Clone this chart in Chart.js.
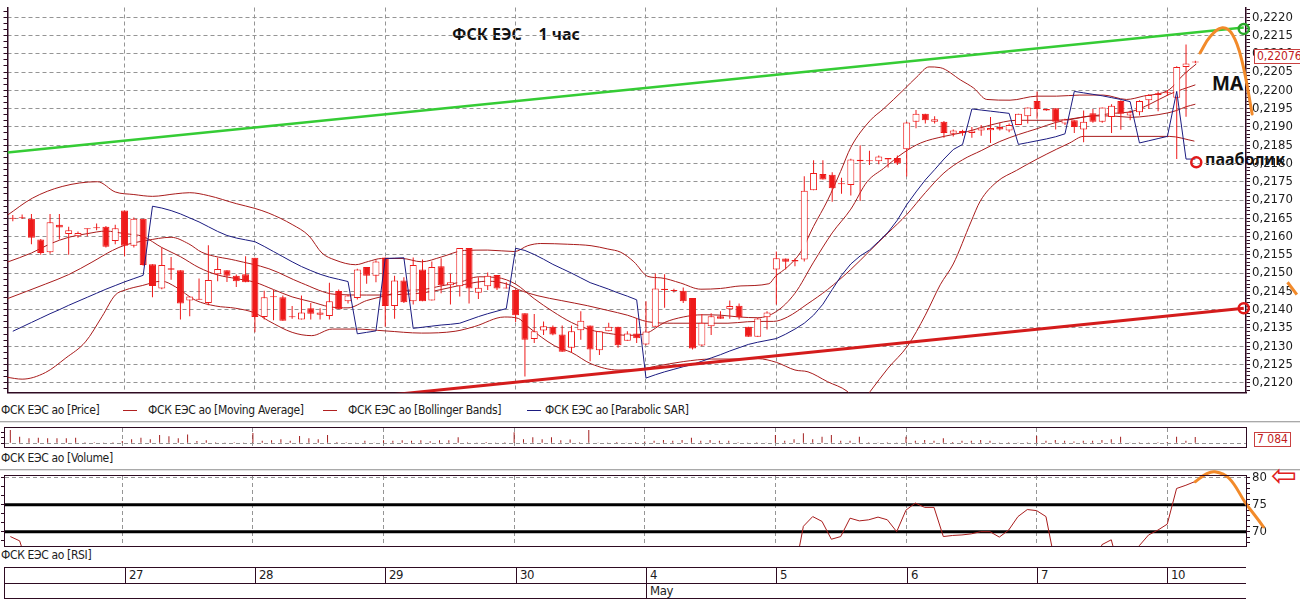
<!DOCTYPE html>
<html lang="ru">
<head>
<meta charset="utf-8">
<title>ФСК ЕЭС 1 час</title>
<script src="https://cdn.jsdelivr.net/npm/chart.js@4.4.1/dist/chart.umd.min.js"></script>
<style>
	html, body { margin: 0; padding: 0; background: #fff; }
	#page { position: relative; width: 1300px; height: 602px; overflow: hidden;
		font-family: "Liberation Sans Narrow", "DejaVu Sans Condensed", "Arial Narrow", sans-serif; color: #1c1c1c; }
	#page canvas { position: absolute; left: 0; z-index: 2; }
	.txt { position: absolute; white-space: pre; font-size: 12px; line-height: 14px; letter-spacing: -0.35px; }
	.note { position: absolute; white-space: pre; font-family: "Noto Sans", sans-serif; font-weight: bold; color: #111; z-index: 1; line-height: 1; }
	.frame { position: absolute; box-sizing: border-box; border: 1px solid #2e0b22; z-index: 3; pointer-events: none; }
	.sep { position: absolute; left: 0; width: 1300px; height: 1px; background: #a9a9a9; border-bottom: 1px solid #e2e2e2; }
	.key { position: absolute; height: 1px; width: 14px; top: 410px; }
	.ln { position: absolute; background: #2e0b22; }
	.box { position: absolute; box-sizing: border-box; border: 1px solid #c94040; color: #c21b1b; background: #fff;
		font-size: 12px; line-height: 13px; padding: 0 2px; z-index: 4; }
</style>
</head>
<body>
<div id="page">
	<div class="note" style="left:452px;top:26px;font-size:16px;">ФСК ЕЭС    1 час</div>
	<div class="note" style="left:1212px;top:74px;font-size:19px;">MA</div>
	<div class="note" style="left:1205px;top:151px;font-size:16px;">пааболик</div>
	<canvas id="priceChart" width="1300" height="400" style="top:0"></canvas>
	<div class="box" style="left:1254px;top:49px;">0,22076</div>

	<div class="txt" style="left:1px;top:403px">ФСК ЕЭС ао [Price]</div>
	<div class="key" style="left:123px;background:#b02020"></div>
	<div class="txt" style="left:148px;top:403px">ФСК ЕЭС ао [Moving Average]</div>
	<div class="key" style="left:323px;background:#b02020"></div>
	<div class="txt" style="left:348px;top:403px">ФСК ЕЭС ао [Bollinger Bands]</div>
	<div class="key" style="left:527px;background:#1b1b80"></div>
	<div class="txt" style="left:545px;top:403px">ФСК ЕЭС ао [Parabolic SAR]</div>
	<div class="sep" style="top:421px"></div>

	<canvas id="volumeChart" width="1300" height="24" style="top:426px"></canvas>
	<div class="frame" style="left:4px;top:427px;width:1243px;height:21px"></div>
	<div class="box" style="left:1254px;top:432px;">7 084</div>
	<div class="txt" style="left:1px;top:451px">ФСК ЕЭС ао [Volume]</div>
	<div class="sep" style="top:469px"></div>

	<canvas id="rsiChart" width="1300" height="80" style="top:470px"></canvas>
	<div class="frame" style="left:4px;top:475px;width:1243px;height:72px"></div>
	<div class="note" style="left:1271px;top:460px;color:#e02020;font-size:31px;font-family:'DejaVu Sans';font-weight:normal">⇦</div>
	<div class="txt" style="left:1px;top:548px">ФСК ЕЭС ао [RSI]</div>
	<div id="dates"></div>
</div>
<script>
(function () {
	'use strict';

	var RED = '#ee1a1a';
	var LINE_RED = '#a81c1c';
	var SAR_BLUE = '#1b1b80';
	var FRAME = '#2e0b22';
	var GRID = '#959595';
	var ORANGE = '#f28a2a';
	var NARROW = '"Liberation Sans Narrow", "DejaVu Sans Condensed", "Arial Narrow", sans-serif';

	var X_MIN = -0.57;
	var X_MAX = 132.44;
	var PRICE_MIN = 0.211735;
	var PRICE_MAX = 0.222265;
	var VOL_MIN = -3030;
	var VOL_MAX = 17200;
	var RSI_MIN = 67.35;
	var RSI_MAX = 80.31;

	var dayLabels = ['27', '28', '29', '30', '4', '5', '6', '7', '10'];
	var dayStarts = [12, 26, 40, 54, 68, 82, 96, 110, 124];
	var monthLabels = ['May'];
	var monthStarts = [68];

	var priceTicks = [0.2120, 0.2125, 0.2130, 0.2135, 0.2140, 0.2145, 0.2150, 0.2155, 0.2160, 0.2165,
		0.2170, 0.2175, 0.2180, 0.2185, 0.2190, 0.2195, 0.2200, 0.2205, 0.2210, 0.2215, 0.2220];
	var rsiTicks = [70, 75, 80];
	var rsiLevels = [70, 75];

	// hourly candles, 14 a day (first day partial)
	var opens = [
		0.21650, 0.21650, 0.21649, 0.21592, 0.21557, 0.21632, 0.21607, 0.21601, 0.21622, 0.21623, 0.21627, 0.21588,
		0.21671, 0.21575, 0.21649, 0.21524, 0.21458, 0.21513, 0.21508, 0.21425, 0.21428, 0.21418, 0.21497, 0.21508, 0.21493, 0.21497,
		0.21542, 0.21380, 0.21434, 0.21434, 0.21380, 0.21373, 0.21404, 0.21386, 0.21383, 0.21451, 0.21423, 0.21432, 0.21517, 0.21493,
		0.21543, 0.21410, 0.21480, 0.21423, 0.21510, 0.21425, 0.21519, 0.21467, 0.21464, 0.21569, 0.21446, 0.21464, 0.21495, 0.21460,
		0.21454, 0.21390, 0.21320, 0.21343, 0.21353, 0.21332, 0.21296, 0.21344, 0.21357, 0.21289, 0.21341, 0.21353, 0.21315, 0.21335,
		0.21305, 0.21353, 0.21457, 0.21454, 0.21452, 0.21432, 0.21302, 0.21355, 0.21382, 0.21401, 0.21411, 0.21353, 0.21326, 0.21379,
		0.21510, 0.21540, 0.21536, 0.21537, 0.21727, 0.21771, 0.21769, 0.21743, 0.21741, 0.21810, 0.21807, 0.21806, 0.21811, 0.21815,
		0.21839, 0.21914, 0.21936, 0.21914, 0.21914, 0.21881, 0.21883, 0.21883, 0.21890, 0.21891, 0.21900, 0.21890, 0.21905, 0.21929,
		0.21971, 0.21949, 0.21951, 0.21909, 0.21918, 0.21893, 0.21937, 0.21914, 0.21927, 0.21971, 0.21931, 0.21940, 0.21973, 0.21987,
		0.21992, 0.21980, 0.22064, 0.22079
	];
	var highs = [
		0.21659, 0.21660, 0.21662, 0.21593, 0.21662, 0.21662, 0.21627, 0.21614, 0.21622, 0.21636, 0.21629, 0.21632,
		0.21671, 0.21652, 0.21649, 0.21524, 0.21570, 0.21544, 0.21508, 0.21436, 0.21485, 0.21576, 0.21542, 0.21508, 0.21496, 0.21546,
		0.21542, 0.21452, 0.21454, 0.21439, 0.21410, 0.21439, 0.21418, 0.21404, 0.21474, 0.21455, 0.21441, 0.21512, 0.21517, 0.21535,
		0.21543, 0.21493, 0.21489, 0.21543, 0.21537, 0.21532, 0.21541, 0.21499, 0.21569, 0.21569, 0.21489, 0.21502, 0.21495, 0.21475,
		0.21455, 0.21390, 0.21388, 0.21368, 0.21357, 0.21357, 0.21357, 0.21396, 0.21357, 0.21341, 0.21364, 0.21353, 0.21341, 0.21376,
		0.21423, 0.21499, 0.21497, 0.21457, 0.21461, 0.21432, 0.21388, 0.21390, 0.21396, 0.21425, 0.21417, 0.21353, 0.21378, 0.21396,
		0.21559, 0.21540, 0.21540, 0.21765, 0.21809, 0.21809, 0.21776, 0.21761, 0.21813, 0.21850, 0.21835, 0.21822, 0.21815, 0.21822,
		0.21914, 0.21946, 0.21936, 0.21929, 0.21916, 0.21893, 0.21892, 0.21900, 0.21905, 0.21927, 0.21911, 0.21909, 0.21936, 0.21953,
		0.21997, 0.21949, 0.21951, 0.21922, 0.21918, 0.21945, 0.21949, 0.21953, 0.21962, 0.21973, 0.21945, 0.21973, 0.21989, 0.21997,
		0.22000, 0.22066, 0.22125, 0.22081
	];
	var lows = [
		0.21642, 0.21648, 0.21579, 0.21550, 0.21553, 0.21592, 0.21550, 0.21597, 0.21601, 0.21617, 0.21570, 0.21579,
		0.21546, 0.21570, 0.21520, 0.21434, 0.21456, 0.21482, 0.21373, 0.21382, 0.21427, 0.21412, 0.21478, 0.21476, 0.21462, 0.21475,
		0.21338, 0.21373, 0.21371, 0.21370, 0.21375, 0.21373, 0.21373, 0.21373, 0.21373, 0.21401, 0.21417, 0.21428, 0.21471, 0.21475,
		0.21353, 0.21375, 0.21418, 0.21414, 0.21423, 0.21425, 0.21445, 0.21414, 0.21436, 0.21417, 0.21429, 0.21454, 0.21454, 0.21458,
		0.21366, 0.21217, 0.21309, 0.21331, 0.21330, 0.21285, 0.21282, 0.21318, 0.21259, 0.21276, 0.21341, 0.21296, 0.21315, 0.21309,
		0.21303, 0.21353, 0.21405, 0.21447, 0.21418, 0.21291, 0.21300, 0.21331, 0.21375, 0.21375, 0.21373, 0.21326, 0.21326, 0.21346,
		0.21414, 0.21510, 0.21519, 0.21532, 0.21727, 0.21756, 0.21695, 0.21717, 0.21712, 0.21697, 0.21796, 0.21798, 0.21789, 0.21796,
		0.21764, 0.21896, 0.21909, 0.21909, 0.21870, 0.21874, 0.21876, 0.21870, 0.21876, 0.21856, 0.21890, 0.21885, 0.21905, 0.21909,
		0.21922, 0.21944, 0.21893, 0.21905, 0.21883, 0.21858, 0.21911, 0.21911, 0.21883, 0.21892, 0.21918, 0.21931, 0.21949, 0.21943,
		0.21985, 0.21812, 0.21928, 0.22074
	];
	var closes = [
		0.21649, 0.21651, 0.21597, 0.21555, 0.21639, 0.21625, 0.21617, 0.21610, 0.21620, 0.21624, 0.21572, 0.21623,
		0.21575, 0.21649, 0.21522, 0.21465, 0.21522, 0.21509, 0.21417, 0.21436, 0.21427, 0.21481, 0.21511, 0.21493, 0.21478, 0.21475,
		0.21380, 0.21434, 0.21435, 0.21370, 0.21379, 0.21392, 0.21389, 0.21392, 0.21423, 0.21401, 0.21439, 0.21510, 0.21493, 0.21532,
		0.21410, 0.21480, 0.21420, 0.21522, 0.21423, 0.21517, 0.21467, 0.21475, 0.21569, 0.21458, 0.21460, 0.21493, 0.21458, 0.21458,
		0.21385, 0.21318, 0.21341, 0.21355, 0.21332, 0.21285, 0.21341, 0.21370, 0.21291, 0.21341, 0.21353, 0.21303, 0.21335, 0.21322,
		0.21340, 0.21458, 0.21454, 0.21451, 0.21423, 0.21294, 0.21364, 0.21382, 0.21375, 0.21410, 0.21379, 0.21326, 0.21376, 0.21392,
		0.21541, 0.21531, 0.21532, 0.21725, 0.21774, 0.21756, 0.21732, 0.21743, 0.21811, 0.21806, 0.21806, 0.21819, 0.21815, 0.21800,
		0.21912, 0.21936, 0.21918, 0.21921, 0.21883, 0.21890, 0.21889, 0.21890, 0.21898, 0.21897, 0.21893, 0.21905, 0.21936, 0.21953,
		0.21949, 0.21945, 0.21914, 0.21920, 0.21900, 0.21914, 0.21914, 0.21953, 0.21958, 0.21936, 0.21940, 0.21971, 0.21987, 0.21992,
		0.21995, 0.22064, 0.22073, 0.22076
	];

	// indicator lines read at the bar index where they bend
	var maIdx = [-0.6, 2, 4, 6, 8, 10, 12, 14, 16, 18, 20, 22, 24, 26, 28, 30, 32, 34, 36, 38, 40, 42, 44, 46, 48, 50,
		52, 54, 56, 58, 60, 62, 64, 66, 68, 70, 72, 74, 76, 78, 80, 82, 84, 86, 88, 90, 91.75, 93.5, 95.7, 97.5, 100,
		102.5, 105, 107.8, 110, 112.1, 115, 117.8, 120.3, 122.1, 124.2, 127];
	var maVal = [0.21530, 0.21555, 0.21580, 0.21598, 0.21608, 0.21615, 0.21608, 0.21600, 0.21570, 0.21545, 0.21515,
		0.21495, 0.21485, 0.21475, 0.21455, 0.21435, 0.21422, 0.21408, 0.21405, 0.21425, 0.21438, 0.21452, 0.21455,
		0.21465, 0.21475, 0.21490, 0.21488, 0.21470, 0.21430, 0.21395, 0.21365, 0.21345, 0.21335, 0.21330, 0.21335,
		0.21365, 0.21380, 0.21386, 0.21385, 0.21380, 0.21378, 0.21395, 0.21445, 0.21530, 0.21610, 0.21675, 0.21750,
		0.21786, 0.21830, 0.21856, 0.21874, 0.21887, 0.21905, 0.21918, 0.21918, 0.21918, 0.21927, 0.21936, 0.21943,
		0.21962, 0.21989, 0.22015];

	var bbUpIdx = [-0.6, 2.1, 5.3, 9.1, 11, 13, 15, 17.5, 19, 21, 24, 26, 27.5, 30, 31.8, 33.2, 34.6, 36.8, 38.2,
		39.6, 41.8, 43.9, 46, 48.5, 51, 53.9, 55.3, 56.7, 59.6, 62.1, 63.9, 65.3, 66.7, 68.2, 69.6, 71.7, 73.9, 76,
		78.2, 81.2, 81.9, 83.2, 84.6, 86, 87.5, 88.9, 90, 92.1, 93.5, 95.7, 97.1, 98.4, 99.6, 101.8, 103.2, 104.6,
		107.1, 110, 112.1, 114.6, 117.1, 119.6, 121.4, 124.2, 125.7, 127.1];
	var bbUpVal = [0.21658, 0.21705, 0.21737, 0.21750, 0.21722, 0.21715, 0.21710, 0.21717, 0.21720,
		0.21712, 0.21690, 0.21677, 0.21664, 0.21633, 0.21602, 0.21555, 0.21536, 0.21523, 0.21532, 0.21540, 0.21540,
		0.21531, 0.21544, 0.21562, 0.21563, 0.21559, 0.21575, 0.21581, 0.21579, 0.21575, 0.21566, 0.21557, 0.21531,
		0.21491, 0.21487, 0.21473, 0.21456, 0.21458, 0.21465, 0.21471, 0.21491, 0.21517, 0.21557, 0.21628, 0.21699,
		0.21778, 0.21844, 0.21918, 0.21949, 0.22002, 0.22037, 0.22064, 0.22062, 0.22028, 0.22006, 0.21975, 0.21973,
		0.21984, 0.21984, 0.21987, 0.21987, 0.21975, 0.21984, 0.22002, 0.22042, 0.22072];

	var bbMidIdx = [-0.6, 3.5, 6, 8.5, 10.7, 12.1, 14.3, 17, 18.9, 20.3, 23.9, 27.5, 31, 34.6, 38, 41, 44, 46, 48.5,
		51, 53.2, 54.3, 56.4, 58.9, 61.7, 63.9, 66, 68.2, 71, 74.3, 76.8, 78.9, 81, 81.7, 83.2, 85.3, 87.5, 90, 92,
		94, 96, 98, 100, 102, 104, 106, 108, 110, 112, 114, 116, 118, 120, 122, 124, 125, 126, 127];
	var bbMidVal = [0.21430, 0.21470, 0.21496, 0.21530, 0.21562, 0.21577, 0.21589, 0.21598, 0.21580, 0.21557, 0.21535,
		0.21512, 0.21473, 0.21442, 0.21440, 0.21441, 0.21446, 0.21455, 0.21469, 0.21478, 0.21469, 0.21455, 0.21438,
		0.21425, 0.21411, 0.21398, 0.21385, 0.21367, 0.21363, 0.21363, 0.21363, 0.21367, 0.21368, 0.21368, 0.21380,
		0.21415, 0.21455, 0.21510, 0.21560, 0.21610, 0.21660, 0.21720, 0.21774, 0.21810, 0.21835, 0.21860, 0.21879,
		0.21895, 0.21912, 0.21922, 0.21930, 0.21930, 0.21926, 0.21930, 0.21938, 0.21945, 0.21955, 0.21962];

	var bbLowIdx = [-0.6, 1, 3.5, 5.7, 7.8, 9.6, 11, 12.1, 13.9, 16, 17.5, 19.6, 21.8, 23.9, 26, 27.5, 30, 32.1, 34.3,
		36.8, 40, 43.9, 47.5, 49.6, 52.8, 54.3, 55.3, 58.2, 60, 62.1, 65, 67, 69, 72, 75, 78, 80, 82, 84, 85.4, 87.5,
		89.6, 91, 92.1, 94, 96.1, 98, 99.6, 101, 102.9, 103.9, 105.7, 107.8, 110, 112.1, 113.5, 115, 120.7, 124.2, 126.9];
	var bbLowVal = [0.21215, 0.21210, 0.21228, 0.21268, 0.21312, 0.21382, 0.21440, 0.21454, 0.21466, 0.21478, 0.21462,
		0.21426, 0.21410, 0.21404, 0.21391, 0.21369, 0.21338, 0.21329, 0.21347, 0.21347, 0.21342, 0.21336, 0.21341,
		0.21354, 0.21380, 0.21376, 0.21354, 0.21301, 0.21283, 0.21252, 0.21235, 0.21236, 0.21245, 0.21258, 0.21265,
		0.21265, 0.21266, 0.21256, 0.21235, 0.21230, 0.21203, 0.21177, 0.21140, 0.21177, 0.21240, 0.21301, 0.21385,
		0.21468, 0.21525, 0.21640, 0.21697, 0.21750, 0.21781, 0.21812, 0.21839, 0.21856, 0.21874, 0.21874, 0.21874,
		0.21861];

	var sarVal = [
		0.21341, 0.21353, 0.21365, 0.21377, 0.21389, 0.21400, 0.21412, 0.21423, 0.21434, 0.21445, 0.21456, 0.21466,
		0.21476, 0.21485, 0.21494, 0.21683, 0.21678, 0.21671, 0.21662, 0.21651, 0.21640, 0.21627, 0.21614, 0.21603, 0.21596, 0.21591,
		0.21586, 0.21573, 0.21559, 0.21545, 0.21531, 0.21518, 0.21507, 0.21497, 0.21489, 0.21483, 0.21477, 0.21334, 0.21338, 0.21342,
		0.21540, 0.21541, 0.21542, 0.21349, 0.21352, 0.21355, 0.21358, 0.21360, 0.21363, 0.21372, 0.21381, 0.21389, 0.21396, 0.21403,
		0.21568, 0.21562, 0.21551, 0.21538, 0.21524, 0.21512, 0.21500, 0.21487, 0.21474, 0.21465, 0.21456, 0.21446, 0.21437, 0.21427,
		0.21213, 0.21222, 0.21230, 0.21237, 0.21244, 0.21250, 0.21259, 0.21268, 0.21277, 0.21287, 0.21296, 0.21305, 0.21311, 0.21316,
		0.21321, 0.21333, 0.21347, 0.21363, 0.21385, 0.21415, 0.21455, 0.21494, 0.21525, 0.21547, 0.21563, 0.21587, 0.21612, 0.21645,
		0.21687, 0.21722, 0.21755, 0.21783, 0.21812, 0.21838, 0.21852, 0.21949, 0.21946, 0.21943, 0.21940, 0.21937, 0.21852, 0.21857,
		0.21862, 0.21867, 0.21873, 0.21881, 0.21997, 0.21993, 0.21989, 0.21985, 0.21980, 0.21975, 0.21969, 0.21856, 0.21862, 0.21868,
		0.21874, 0.21997, 0.21812, 0.21812
	];

	var volumes = [
		15000, 7400, 5600, 6200, 5600, 5600, 5600, 6200, 1200, 1100, 1000, 1200,
		2600, 4500, 6300, 4500, 9300, 7800, 5600, 10000, 2600, 3400, 1200, 1000, 1200, 1000,
		11600, 2800, 3300, 4500, 2800, 8200, 5600, 4500, 9300, 1500, 1200, 1000, 2800, 1000,
		3300, 2800, 3300, 2800, 3300, 2300, 3300, 3300, 6900, 1200, 1000, 1500, 1000, 1200,
		12400, 4500, 6900, 4500, 6900, 3300, 4200, 1200, 15000, 1000, 1000, 1500, 1000, 1500,
		2000, 2800, 3800, 2800, 3800, 6200, 2800, 3800, 2800, 2800, 1200, 1000, 1200, 1000,
		9300, 3000, 4500, 11200, 4500, 7500, 9300, 3000, 3000, 7500, 1200, 1000, 1200, 1000,
		7500, 3000, 3800, 3000, 5600, 1500, 3000, 3000, 3800, 3000, 1000, 1200, 1000, 1200,
		8300, 3000, 3800, 3000, 2000, 3000, 3000, 3800, 4500, 7500, 1000, 1200, 1000, 1200,
		1500, 7500, 3000, 7084
	];

	// RSI only shows where it is above the panel floor
	var rsiVal = [
		69.1, 68.3, 63, null, null, null, null, null, null, null, null, null,
		null, null, null, null, null, null, null, null, null, null, null, null, null, null,
		null, null, null, null, null, null, null, null, null, null, null, null, null, null,
		null, null, null, null, null, null, null, null, null, null, null, null, null, null,
		null, null, null, null, null, null, null, null, null, null, null, null, null, null,
		null, null, null, null, null, null, null, null, null, null, null, null, null, null,
		null, null, 62, 71.0, 72.8, 71.9, 68.6, 69.1, 72.5, 72.0, 72.2, 72.7, 72.2, 70.0,
		74.0, 75.3, 74.5, 74.5, 69.1, 69.3, 69.4, 69.6, 70.0, 70.0, 69.0, 70.3, 72.8, 74.1,
		73.9, 72.8, 64, null, null, null, 62, 67.6, 68.5, 62, 63, 67.4, 69.4, 70.3,
		71.4, 78.0, 78.6, 79.3
	];

	// hand-drawn marks on the original picture
	var greenTrendIdx = [-0.57, 132.2];
	var greenTrendVal = [0.21830, 0.22172];
	var redTrendIdx = [41.0, 132.2];
	var redTrendVal = [0.21168, 0.21404];
	var arrowIdx = [127.5, 128.6, 129.9, 131.0, 132.0, 133.1, 134.2, 135.3, 136.4, 137.9];
	var arrowVal = [0.22102, 0.22147, 0.22171, 0.22152, 0.22081, 0.21935, 0.21777, 0.21644, 0.21539, 0.21441];
	var arrowHeadIdx = [136.9, 137.9, 138.3];
	var arrowHeadVal = [0.21475, 0.21441, 0.21478];
	var rsiArrowIdx = [127.0, 128.2, 129.1, 130.6, 132.4, 134.3, 135.6];
	var rsiArrowVal = [79.26, 80.7, 81.1, 79.94, 75.3, 70.9, 67.35];
	var ringIdx = [132.2, 132.2, 127.1];
	var ringVal = [0.22168, 0.21404, 0.21803];
	var ringColors = ['#2aa82a', '#e01818', '#e01818'];

	Chart.defaults.font.family = NARROW;
	Chart.defaults.color = '#1c1c1c';

	function points(idx, vals) {
		return idx.map(function (x, k) {
			return { x: x, y: vals[k] };
		});
	}

	function series(vals) {
		return vals.map(function (v, i) {
			return { x: i, y: v };
		});
	}

	function near(list, value) {
		for (var k = 0; k < list.length; k++) {
			if (Math.abs(list[k] - value) < 1e-7) {
				return k;
			}
		}
		return -1;
	}

	function stepTicks(from, to, step) {
		var out = [];
		var n = Math.round((to - from) / step);
		for (var k = 0; k <= n; k++) {
			out.push({ value: from + k * step });
		}
		return out;
	}

	function dayAxis(height) {
		return {
			type: 'linear',
			min: X_MIN,
			max: X_MAX,
			offset: false,
			afterBuildTicks: function (scale) {
				scale.ticks = dayStarts.map(function (d) {
					return { value: d };
				});
			},
			ticks: { display: false },
			grid: { color: GRID, drawTicks: false, offset: false },
			border: { display: false, dash: [4, 3] },
			afterFit: function (scale) {
				scale.height = height;
				scale.paddingLeft = 0;
				scale.paddingRight = 0;
			},
		};
	}

	function sideAxis(position, width, min, max, ticks) {
		return {
			position: position,
			min: min,
			max: max,
			afterBuildTicks: function (scale) {
				scale.ticks = ticks;
			},
			ticks: {
				autoSkip: false,
				padding: 0,
				callback: function () {
					return '';
				},
			},
			grid: { drawOnChartArea: false, tickLength: 4, tickColor: FRAME },
			border: { display: false },
			afterFit: function (scale) {
				scale.width = width;
				scale.paddingTop = 0;
				scale.paddingBottom = 0;
			},
		};
	}

	function lineSet(data, color, width, order, extra) {
		var ds = {
			type: 'line',
			data: data,
			borderColor: color,
			borderWidth: width,
			pointRadius: 0,
			fill: false,
			order: order,
		};
		for (var k in extra) {
			ds[k] = extra[k];
		}
		return ds;
	}

	var bodyData = opens.map(function (o, i) {
		return { x: i, y: [o, closes[i]] };
	});
	var bodyColors = opens.map(function (o, i) {
		return closes[i] >= o ? '#ffffff' : RED;
	});
	var wickData = lows.map(function (l, i) {
		return { x: i, y: [l, highs[i]] };
	});

	var priceFrame = sideAxis('right', 54, PRICE_MIN, PRICE_MAX, stepTicks(0.2118, 0.2222, 0.0001));
	priceFrame.ticks = {
		autoSkip: false,
		padding: 2,
		color: '#1c1c1c',
		font: { family: NARROW, size: 13 },
		callback: function (value) {
			return near(priceTicks, value) >= 0 ? value.toFixed(4).replace('.', ',') : '';
		},
	};
	priceFrame.grid = {
		drawOnChartArea: true,
		tickLength: 4,
		tickColor: FRAME,
		color: function (ctx) {
			return ctx.tick && near(priceTicks, ctx.tick.value) >= 0 ? GRID : 'rgba(0,0,0,0)';
		},
	};
	priceFrame.border = { display: true, color: FRAME, width: 1.5, dash: [4, 3] };

	var priceLeft = sideAxis('left', 5, PRICE_MIN, PRICE_MAX, stepTicks(0.211833, 0.2222, 0.0005 / 3));
	priceLeft.border = { display: true, color: FRAME, width: 1.5 };

	var priceX = dayAxis(2);
	priceX.border = { display: true, color: FRAME, width: 1.5, dash: [4, 3] };

	var priceChart = new Chart(document.getElementById('priceChart'), {
		type: 'bar',
		data: {
			datasets: [
				lineSet(points(bbUpIdx, bbUpVal), LINE_RED, 1, 6, { cubicInterpolationMode: 'monotone' }),
				lineSet(points(bbMidIdx, bbMidVal), LINE_RED, 1, 6, { cubicInterpolationMode: 'monotone' }),
				lineSet(points(bbLowIdx, bbLowVal), LINE_RED, 1, 6, { cubicInterpolationMode: 'monotone' }),
				lineSet(points(maIdx, maVal), LINE_RED, 1, 6, { cubicInterpolationMode: 'monotone' }),
				{
					type: 'bar',
					data: wickData,
					backgroundColor: RED,
					borderWidth: 0,
					barThickness: 1,
					grouped: false,
					inflateAmount: 0,
					order: 5,
				},
				{
					type: 'bar',
					data: bodyData,
					backgroundColor: bodyColors,
					borderColor: RED,
					borderWidth: 1,
					borderSkipped: false,
					barThickness: 7,
					minBarLength: 1,
					grouped: false,
					inflateAmount: 0,
					order: 4,
				},
				lineSet(series(sarVal), SAR_BLUE, 1, 3, {}),
				lineSet(points(greenTrendIdx, greenTrendVal), '#35cc35', 2.5, 2, {}),
				lineSet(points(redTrendIdx, redTrendVal), '#d41c1c', 3, 2, {}),
				lineSet(points(arrowIdx, arrowVal), ORANGE, 3, 1, { tension: 0.4, clip: false, borderCapStyle: 'round' }),
				lineSet(points(arrowHeadIdx, arrowHeadVal), ORANGE, 3, 1, { clip: false, borderJoinStyle: 'round' }),
				{
					type: 'line',
					data: points(ringIdx, ringVal),
					showLine: false,
					pointRadius: 5,
					pointBorderWidth: 2.5,
					pointBackgroundColor: 'rgba(255,255,255,0)',
					pointBorderColor: ringColors,
					clip: false,
					order: 0,
				},
			],
		},
		options: {
			responsive: false,
			animation: false,
			events: [],
			layout: { padding: 0 },
			plugins: { legend: { display: false }, tooltip: { enabled: false } },
			scales: {
				x: priceX,
				y: priceFrame,
				yl: priceLeft,
			},
		},
	});

	var volRight = sideAxis('right', 54, VOL_MIN, VOL_MAX, [{ value: 0 }]);
	volRight.grid = { drawOnChartArea: true, drawTicks: false, color: GRID };
	volRight.border = { display: false, dash: [4, 3] };

	new Chart(document.getElementById('volumeChart'), {
		type: 'bar',
		data: {
			datasets: [
				{
					data: series(volumes),
					backgroundColor: '#a32020',
					borderWidth: 0,
					barThickness: 1,
					grouped: false,
					inflateAmount: 0,
				},
			],
		},
		options: {
			responsive: false,
			animation: false,
			events: [],
			layout: { padding: { top: 2 } },
			plugins: { legend: { display: false }, tooltip: { enabled: false } },
			scales: {
				x: dayAxis(4),
				y: volRight,
				yl: sideAxis('left', 5, VOL_MIN, VOL_MAX, [{ value: 0 }, { value: 6000 }, { value: 12000 }]),
			},
		},
	});

	var rsiRight = sideAxis('right', 54, RSI_MIN, RSI_MAX, stepTicks(68, 80, 1));
	rsiRight.ticks = {
		autoSkip: false,
		padding: 2,
		color: '#1c1c1c',
		font: { family: NARROW, size: 13 },
		callback: function (value) {
			return near(rsiTicks, value) >= 0 ? String(value) : '';
		},
	};
	rsiRight.grid = {
		drawOnChartArea: true,
		tickLength: 4,
		tickColor: FRAME,
		color: function (ctx) {
			return ctx.tick && Math.abs(ctx.tick.value - 80) < 1e-6 ? GRID : 'rgba(0,0,0,0)';
		},
	};
	rsiRight.border = { display: false, dash: [4, 3] };

	var rsiSets = rsiLevels.map(function (level) {
		return lineSet(points([X_MIN, X_MAX], [level, level]), '#000000', 3, 2, {});
	});
	rsiSets.push(lineSet(series(rsiVal), LINE_RED, 1, 1, { spanGaps: false }));
	rsiSets.push(lineSet(points(rsiArrowIdx, rsiArrowVal), ORANGE, 3, 0, { tension: 0.4, clip: false, borderCapStyle: 'round' }));

	new Chart(document.getElementById('rsiChart'), {
		type: 'line',
		data: { datasets: rsiSets },
		options: {
			responsive: false,
			animation: false,
			events: [],
			layout: { padding: { top: 6 } },
			plugins: { legend: { display: false }, tooltip: { enabled: false } },
			scales: {
				x: dayAxis(4),
				y: rsiRight,
				yl: sideAxis('left', 5, RSI_MIN, RSI_MAX, [68.333, 70, 71.667, 73.333, 75, 76.667, 78.333, 80].map(function (v) {
					return { value: v };
				})),
			},
		},
	});

	function addBox(cls, left, top, width, height) {
		var el = document.createElement('div');
		el.className = cls;
		el.style.left = left + 'px';
		el.style.top = top + 'px';
		el.style.width = width + 'px';
		el.style.height = height + 'px';
		document.getElementById('dates').appendChild(el);
	}

	function addLabel(text, left, top) {
		var el = document.createElement('div');
		el.className = 'txt';
		el.textContent = text;
		el.style.left = left + 'px';
		el.style.top = top + 'px';
		el.style.fontSize = '13px';
		document.getElementById('dates').appendChild(el);
	}

	function buildDateRow(xScale) {
		var left = 4;
		var right = Math.round(xScale.right);
		var top = 567;
		var mid = 583;
		var bottom = 598;

		addBox('ln', left, top, right - left, 1);
		addBox('ln', left, mid, right - left, 1);
		addBox('ln', left, bottom, right - left, 1);
		addBox('ln', left, top, 1, bottom - top + 1);

		dayStarts.forEach(function (d, k) {
			var x = Math.round(xScale.getPixelForValue(d));
			addBox('ln', x, top, 1, mid - top);
			addLabel(dayLabels[k], x + 4, top + 1);
		});

		monthStarts.forEach(function (m, k) {
			var x = Math.round(xScale.getPixelForValue(m));
			addBox('ln', x, mid, 1, bottom - mid);
			addLabel(monthLabels[k], x + 4, mid + 1);
		});
	}

	buildDateRow(priceChart.scales.x);
})();
</script>
</body>
</html>
